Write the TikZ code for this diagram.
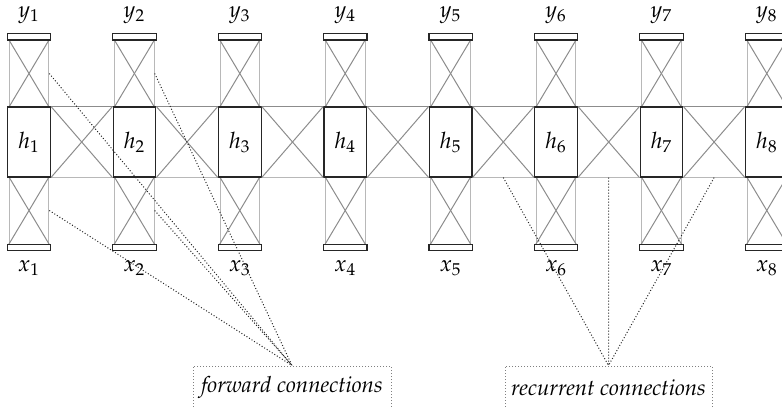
\documentclass[tikz,border=0pt]{standalone}
\usepackage[T1]{fontenc}
\usepackage{mathpazo}
\usetikzlibrary{calc}
\begin{document}
\begin{tikzpicture}[x=0.5pt,y=-0.5pt,
  font=\fontsize{11.3}{13}\selectfont,
  crossline/.style={draw=black!45, line width=0.5pt},
  sideline/.style={draw=black!28, line width=0.5pt},
  crossbox/.style={sideline, minimum width=19.8pt, minimum height=33.5pt, inner sep=0pt},
  hbox/.style={draw=black!85, fill=white, line width=0.6pt, minimum width=21.3pt, minimum height=35pt, inner sep=0pt},
  barbox/.style={draw=black!85, fill=white, line width=0.6pt, minimum width=21.7pt, minimum height=3.35pt, inner sep=0pt},
  conn/.style={draw=black!85, line width=0.5pt, dash pattern=on 0.5pt off 1pt},
  lbl/.style={draw=black!50, line width=0.5pt, dash pattern=on 0.5pt off 1pt, minimum height=22pt, inner sep=0pt, font=\fontsize{11.1}{13}\selectfont\itshape}]
\clip (0,0) rectangle (782,407);
\foreach \i in {1,...,8} {
  \pgfmathsetmacro\cx{29+105.4*(\i-1)}
  \node[crossbox] (u\i) at (\cx,73.5) {};
  \node[crossbox] (l\i) at (\cx,210.5) {};
  \draw[crossline] (u\i.north west) -- (u\i.south east);
  \draw[crossline] (u\i.north east) -- (u\i.south west);
  \draw[crossline] (l\i.north west) -- (l\i.south east);
  \draw[crossline] (l\i.north east) -- (l\i.south west);
  \node[hbox] (h\i) at (\cx,142) {$h_{\i}$};
  \node[barbox] (yb\i) at (\cx,36.65) {};
  \node[barbox] (xb\i) at (\cx,247.5) {};
  \node (yl\i) at (\cx,15) {$y_{\i}$};
  \node (xl\i) at (\cx,268) {$x_{\i}$};
}
\foreach \i [evaluate=\i as \j using int(\i+1)] in {1,...,7} {
  \draw[crossline] (h\i.north east) -- (h\j.north west);
  \draw[sideline] (h\i.south east) -- (h\j.south west);
  \draw[crossline] (h\i.north east) -- (h\j.south west);
  \draw[crossline] (h\i.south east) -- (h\j.north west);
  \coordinate (m\i) at ($(h\i.south east)!0.5!(h\j.south west)$);
}
\node[lbl, minimum width=99pt] (fwd) at (292,388) {forward connections};
\node[lbl, minimum width=103.5pt] (rec) at (608.5,388) {recurrent connections};
\draw[conn] (u1.east) -- (fwd.north);
\draw[conn] (l1.east) -- (fwd.north);
\draw[conn] (u2.east) -- (fwd.north);
\draw[conn] (l2.east) -- (fwd.north);
\draw[conn] (m5) -- (rec.north);
\draw[conn] (m6) -- (rec.north);
\draw[conn] (m7) -- (rec.north);
\end{tikzpicture}
\end{document}
